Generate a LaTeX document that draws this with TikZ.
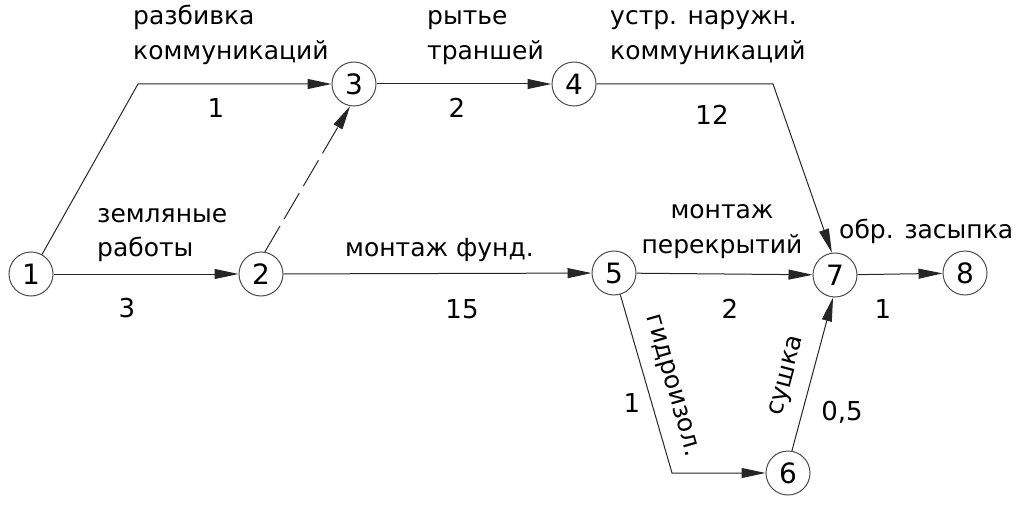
\documentclass[tikz,border=0pt]{standalone}
\usepackage{fontspec}
\setmainfont{DejaVu Sans}
\usetikzlibrary{arrows.meta}
\begin{document}
\begin{tikzpicture}[x=1pt,y=-1pt,
  ev/.style={circle,draw=black!70,line width=1pt,minimum size=44pt,inner sep=0pt,font=\fontsize{28}{30}\selectfont},
  arr/.style={draw=black!85,line width=1pt,-{Triangle[length=24pt,width=10pt]}},
  lbl/.style={inner sep=0pt,font=\fontsize{25}{30}\selectfont},
  num/.style={inner sep=0pt,font=\fontsize{26}{30}\selectfont},
  lw/.style={lbl,anchor=base west},
  lc/.style={lbl,anchor=base},
]
\useasboundingbox (0,0) rectangle (1024,505);
% events
\node[ev] (n1) at (31,274) {1};
\node[ev] (n2) at (261,274) {2};
\node[ev] (n3) at (354,84) {3};
\node[ev] (n4) at (574,84) {4};
\node[ev] (n5) at (614,273) {5};
\node[ev] (n6) at (788,473) {6};
\node[ev] (n7) at (835,275) {7};
\node[ev] (n8) at (965,273) {8};
% bends
\coordinate (c13) at (138,84);
\coordinate (c47) at (773,84);
\coordinate (c56) at (672,473);
% works
\draw[arr] (n1) -- (c13) -- (n3);
\draw[arr] (n1) -- (n2);
\draw[arr,dash pattern=on 30pt off 8pt] (n2.80) -- (n3.-100);
\draw[arr] (n3) -- (n4);
\draw[arr] (n4) -- (c47) -- (n7.98);
\draw[arr] (n2) -- (n5);
\draw[arr] (n5) -- (n7);
\draw[arr] (n5) -- (c56) -- (n6);
\draw[arr] (n6.80) -- (n7.-95);
\draw[arr] (n7) -- (n8);
% labels
\node[lw] (t13a) at (133,25) {разбивка};
\node[lw] (t13b) at (133,60) {коммуникаций};
\node[num] (d13) at (216,108) {1};
\node[lw] (t34a) at (427,25) {рытье};
\node[lw] (t34b) at (427,60) {траншей};
\node[num] (d34) at (457,108) {2};
\node[lw] (t47a) at (610,25) {устр. наружн.};
\node[lw] (t47b) at (610,60) {коммуникаций};
\node[num] (d47) at (712,115) {12};
\node[lw] (t12a) at (97,222) {земляные};
\node[lw] (t12b) at (97,256) {работы};
\node[num] (d12) at (127,308) {3};
\node[lw] (t25) at (345,256) {монтаж фунд.};
\node[num] (d25) at (462,309) {15};
\node[lc] (t57a) at (722,218) {монтаж};
\node[lc] (t57b) at (722,253) {перекрытий};
\node[num] (d57) at (730,309) {2};
\node[lw] (t78) at (839,238) {обр. засыпка};
\node[num] (d78) at (883,309) {1};
\node[lbl,rotate=-74] (t56) at (671,386) {гидроизол.};
\node[num] (d56) at (632,403) {1};
\node[lbl,rotate=75] (t67) at (788,376) {сушка};
\node[num] (d67) at (842,412) {0,5};
\end{tikzpicture}
\end{document}
